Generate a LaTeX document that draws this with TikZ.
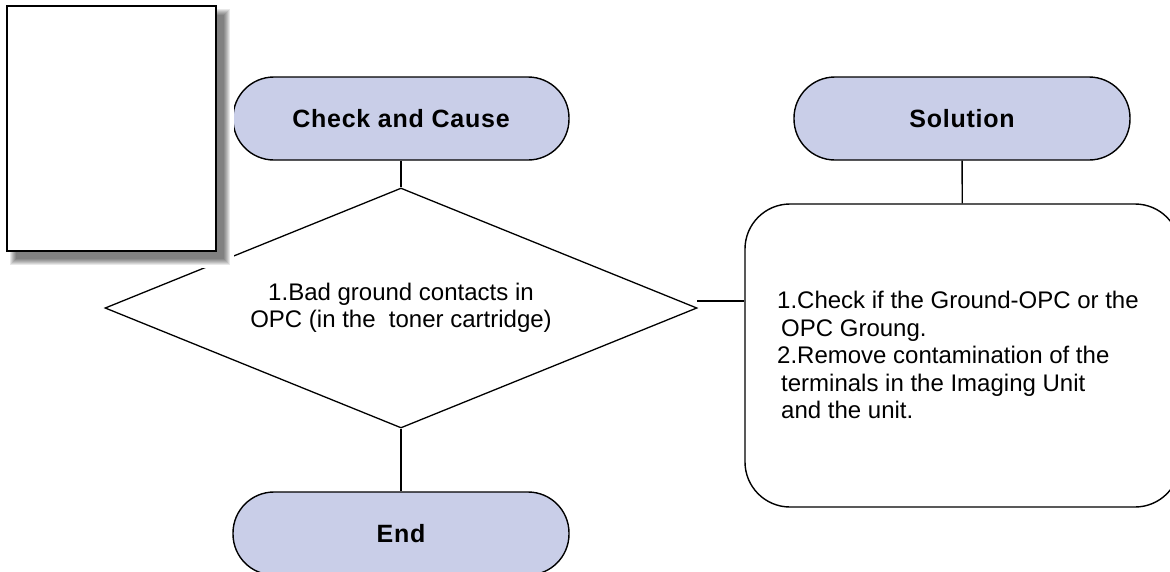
\documentclass[tikz,border=0pt]{standalone}
\usepackage{fontspec}
\setmainfont{Liberation Sans}
\usetikzlibrary{shapes.geometric}
\definecolor{ovalblue}{RGB}{201,206,232}
\tikzset{
  terminal/.style={draw, fill=ovalblue, line width=1.4pt, rounded corners=41pt,
    minimum width=336pt, minimum height=83pt, inner sep=0pt,
    font=\fontsize{25}{30}\selectfont\bfseries\addfontfeature{LetterSpace=3}},
  decide/.style={draw, shape=diamond, aspect=2.46, line width=1.3pt, inner sep=0pt,
    minimum width=592pt, minimum height=240pt, align=center,
    font=\fontsize{24}{27.5}\selectfont},
  solbox/.style={draw, line width=1.4pt, rounded corners=45pt,
    minimum width=435pt, minimum height=303pt},
  link/.style={line width=1.3pt}
}
\begin{document}
\begin{tikzpicture}[x=1pt, y=-1pt]
  \useasboundingbox (0,0) rectangle (1170,571);
  \clip (0,0) rectangle (1170,571);
  \node[decide] (diag) at (401,308) {1.Bad ground contacts in\\OPC (in the \ toner cartridge)};
  \node[terminal] (check) at (401,118.5) {Check and Cause};
  \node[terminal] (fin) at (401,533.5) {End};
  \node[terminal] (sol) at (962,118.5) {Solution};
  \node[solbox] (sbox) at (962.5,355.5) {};
  \node[anchor=west, align=left, inner sep=0pt, font=\fontsize{24}{27.5}\selectfont] (soltext) at (777,355)
    {1.Check if the Ground-OPC or the\\
     \hspace{4pt}OPC Groung.\\
     2.Remove contamination of the\\
     \hspace{4pt}terminals in the Imaging Unit\\
     \hspace{4pt}and the unit.};
  \coordinate (dj) at (697,301);
  \draw[link] (check) -- (diag.north);
  \draw[link] (diag.south) -- (fin);
  \draw[link] (sol) -- (sbox);
  \draw[link] (dj) -- (dj -| sbox.west);
  % sample page with its shadow
  \fill[white] (4,3) rectangle (234,268);
  \foreach \b in {0,...,6}
    \fill[black, opacity=.09] ({10+\b},{9+\b}) rectangle ({230-\b},{265-\b});
  \node[draw, fill=white, line width=1.5pt, minimum width=209pt, minimum height=245pt,
    inner sep=0pt] (page) at (111.5,128.5) {};
\end{tikzpicture}
\end{document}
